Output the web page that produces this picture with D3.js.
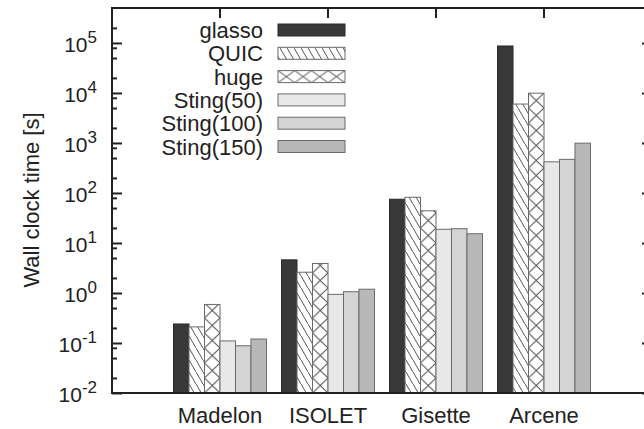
<!DOCTYPE html>
<html>
<head>
<meta charset="utf-8">
<script src="https://cdn.jsdelivr.net/npm/d3@7"></script>
<style>
  body { margin: 0; background: #fff; }
  text { font-family: "Liberation Sans", Arial, sans-serif; fill: #222; }
</style>
</head>
<body>
<div class="chart"></div>
<script>
// data
const categories = ['Madelon', 'ISOLET', 'Gisette', 'Arcene'];
const seriesNames = ['glasso', 'QUIC', 'huge', 'Sting(50)', 'Sting(100)', 'Sting(150)'];
const glasso   = [0.24, 4.6, 75, 87000];
const quic     = [0.21, 2.6, 82, 6000];
const huge     = [0.59, 3.9, 44, 9900];
const sting50  = [0.11, 0.94, 18.8, 420];
const sting100 = [0.088, 1.06, 19.3, 470];
const sting150 = [0.12, 1.19, 15.3, 990];
const yExponents = [-2, -1, 0, 1, 2, 3, 4, 5];
const yMinorFactors = [2, 5, 8];

const seriesValues = [glasso, quic, huge, sting50, sting100, sting150];

const svg_width = 644, svg_height = 429;
const frame = {left: 112, top: 8, right: 652, bottom: 393};

const svg = d3.select('.chart').append('svg')
    .attr('width', svg_width).attr('height', svg_height);

// fills: solid greys + two hatch patterns
const fills = ['#383838', 'url(#hatchQuic)', null, '#e8e8e8', '#d4d4d4', '#b8b8b8'];
const defs = svg.append('defs');

const hq = defs.append('pattern').attr('id', 'hatchQuic')
    .attr('patternUnits', 'userSpaceOnUse').attr('width', 7).attr('height', 12);
hq.append('rect').attr('width', 7).attr('height', 12).attr('fill', '#fff');
hq.append('path').attr('d', 'M-2,-3.43L9,15.43').attr('stroke', '#555').attr('stroke-width', 1);

function crossPattern(id, x, y, w, h) {
    const p = defs.append('pattern').attr('id', id)
        .attr('patternUnits', 'userSpaceOnUse')
        .attr('x', x).attr('y', y).attr('width', w).attr('height', h);
    p.append('rect').attr('width', w).attr('height', h).attr('fill', '#fff');
    p.append('path').attr('d', `M0,0L${w},${h}M${w},0L0,${h}`)
        .attr('stroke', '#555').attr('stroke-width', 1).attr('fill', 'none');
}

// scales
const xScale = d3.scaleBand().domain(categories)
    .range([frame.left + 54, frame.right - 54]);
const barW = 15.5;
const xInner = d3.scaleBand().domain(seriesNames).range([-barW * 3, barW * 3]);
const yScale = d3.scaleLog().domain([1e-2, 5e5]).range([frame.bottom, frame.top]);

// tick values
const majors = yExponents.map(e => Math.pow(10, e));
const minors = [];
yExponents.forEach(e => yMinorFactors.forEach(f => {
    const v = f * Math.pow(10, e);
    if (v < 5e5) minors.push(v);
}));

// ticks (drawn first so bars cover the bottom ones)
const g = svg.append('g');
g.append('g').attr('transform', `translate(${frame.left},0)`)
    .call(d3.axisLeft(yScale).tickValues(majors).tickSize(-10).tickFormat(''))
    .call(a => a.select('.domain').remove());
g.append('g').attr('transform', `translate(${frame.left},0)`)
    .call(d3.axisLeft(yScale).tickValues(minors).tickSize(-5).tickFormat(''))
    .call(a => a.select('.domain').remove());
g.append('g').attr('transform', `translate(${frame.right},0)`)
    .call(d3.axisRight(yScale).tickValues(majors).tickSize(-10).tickFormat(''))
    .call(a => a.select('.domain').remove());
g.append('g').attr('transform', `translate(0,${frame.top})`)
    .call(d3.axisTop(xScale).tickSize(-10).tickFormat(''))
    .call(a => a.select('.domain').remove());
g.append('g').attr('transform', `translate(0,${frame.bottom})`)
    .call(d3.axisBottom(xScale).tickSize(-10).tickFormat(''))
    .call(a => a.select('.domain').remove());
g.selectAll('.tick line').attr('stroke', '#222').attr('stroke-width', 2);

// bars
const bars = [];
categories.forEach((c, i) => seriesNames.forEach((s, j) => {
    bars.push({cat: c, ser: s, j: j, value: seriesValues[j][i]});
}));

bars.filter(d => d.j === 2).forEach(d => {
    const x = xScale(d.cat) + xScale.bandwidth() / 2 + xInner(d.ser);
    crossPattern('cross_' + d.cat, x, frame.bottom, xInner.bandwidth(), 15);
});

svg.append('g').selectAll('rect')
    .data(bars).enter()
    .append('rect')
    .attr('x', d => xScale(d.cat) + xScale.bandwidth() / 2 + xInner(d.ser))
    .attr('y', d => yScale(d.value))
    .attr('width', xInner.bandwidth())
    .attr('height', d => frame.bottom - yScale(d.value))
    .attr('fill', d => d.j === 2 ? `url(#cross_${d.cat})` : fills[d.j])
    .attr('stroke', d => d.j === 0 ? '#2a2a2a' : '#6a6a6a')
    .attr('stroke-width', 1);

// frame
svg.append('path')
    .attr('d', `M${frame.right},${frame.top}H${frame.left}V${frame.bottom}H${frame.right}`)
    .attr('fill', 'none').attr('stroke', '#222').attr('stroke-width', 2);

// y tick labels with superscripts
const yLab = svg.append('g');
majors.forEach((v, i) => {
    const t = yLab.append('text')
        .attr('x', 97).attr('y', yScale(v) + 9)
        .attr('text-anchor', 'end').style('font-size', '21px');
    t.append('tspan').text('10');
    t.append('tspan').text(yExponents[i] < 0 ? '-' + (-yExponents[i]) : yExponents[i])
        .attr('dy', -9).style('font-size', '17px');
});

// x labels
svg.append('g').selectAll('text')
    .data(categories).enter()
    .append('text')
    .attr('x', d => xScale(d) + xScale.bandwidth() / 2)
    .attr('y', 423)
    .attr('text-anchor', 'middle')
    .style('font-size', '22px')
    .text(d => d);

// y axis title
svg.append('text')
    .attr('transform', 'translate(39,200) rotate(-90)')
    .attr('text-anchor', 'middle')
    .style('font-size', '22px')
    .text('Wall clock time [s]');

// legend
const legend = svg.append('g');
const rowH = 23.3, row0 = 30;
seriesNames.forEach((s, j) => {
    const cy = row0 + j * rowH;
    legend.append('text')
        .attr('x', 263).attr('y', cy + 8)
        .attr('text-anchor', 'end').style('font-size', '22px')
        .text(s);
    let fill = fills[j];
    if (j === 2) {
        crossPattern('cross_legend', 278, cy - 6, 16.7, 12);
        fill = 'url(#cross_legend)';
    }
    legend.append('rect')
        .attr('x', 278).attr('y', cy - 6)
        .attr('width', 67).attr('height', 12)
        .attr('fill', fill)
        .attr('stroke', j === 0 ? '#2a2a2a' : '#6a6a6a')
        .attr('stroke-width', 1);
});
</script>
</body>
</html>
